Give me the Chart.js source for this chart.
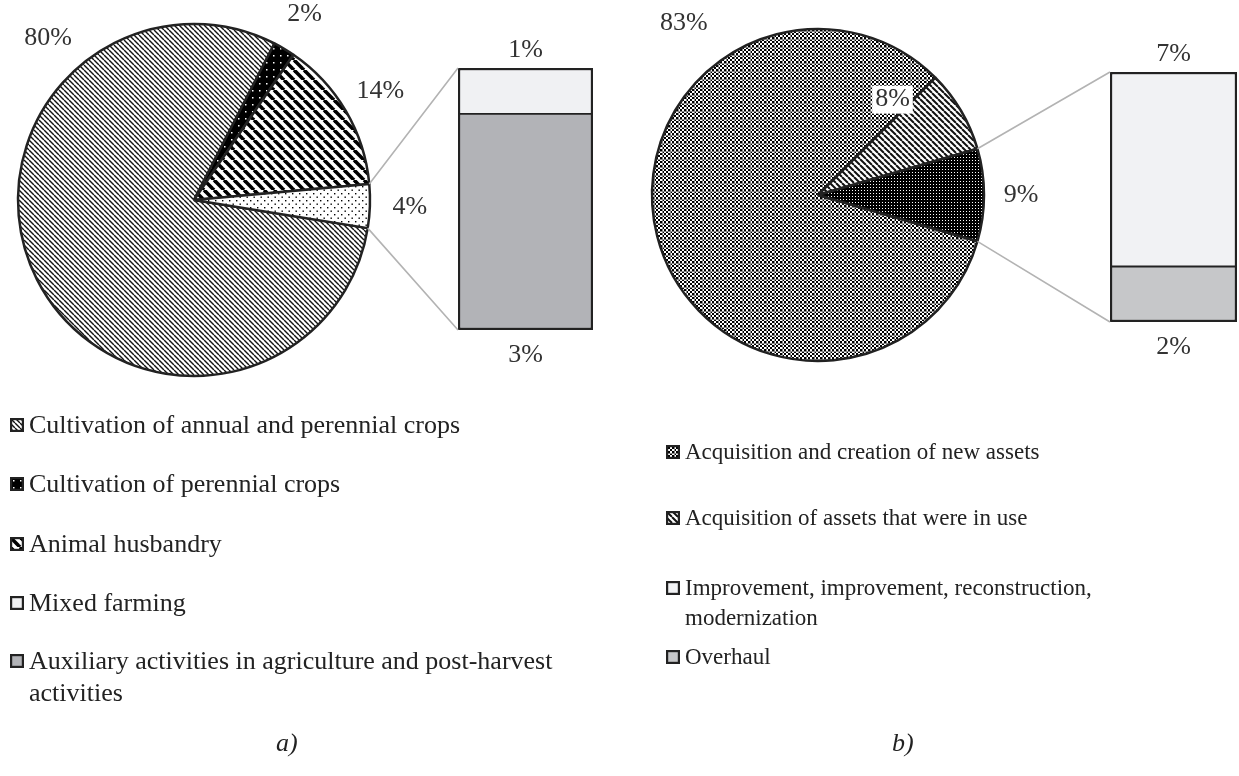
<!DOCTYPE html>
<html>
<head>
<meta charset="utf-8">
<script src="https://cdn.jsdelivr.net/npm/chart.js@4"></script>
<style>
  body { margin: 0; background: #fff; width: 1239px; height: 776px; overflow: hidden; position: relative;
         font-family: "Liberation Serif", "Times New Roman", serif; color: #222; }
  canvas.c { position: absolute; }
  .item { position: absolute; display: flex; align-items: flex-start; }
  .item canvas { flex: none; margin-right: 5px; }
  .legA { font-size: 26px; line-height: 32px; }
  .legA canvas { margin-top: 9px; }
  .legB { font-size: 23px; line-height: 30px; }
  .legB canvas { margin-top: 8px; }
  .cap { position: absolute; font-size: 26px; font-style: italic; }
</style>
</head>
<body>
<canvas class="c" id="pieA" width="380" height="380" style="left:4px;top:10px"></canvas>
<canvas class="c" id="barA" width="145" height="272" style="left:453px;top:63px"></canvas>
<canvas class="c" id="pieB" width="360" height="360" style="left:638px;top:15px"></canvas>
<canvas class="c" id="barB" width="137" height="260" style="left:1105px;top:67px"></canvas>
<canvas class="c" id="overlay" width="1239" height="776" style="left:0;top:0;pointer-events:none"></canvas>
<div id="legA"></div>
<div id="legB"></div>
<div class="cap" style="left:276px;top:728px">a)</div>
<div class="cap" style="left:892px;top:728px">b)</div>

<script>
// ---- data: panel a) ----
const catsA = ['Cultivation of annual and perennial crops', 'Cultivation of perennial crops',
               'Animal husbandry', 'Mixed farming',
               'Auxiliary activities in agriculture and post-harvest activities'];
const pieValsA = [80, 2, 14];     // main pie slices
const barValsA = [0.7, 3.3];      // mixed farming, auxiliary -> "other" slice split

// ---- data: panel b) ----
const catsB = ['Acquisition and creation of new assets', 'Acquisition of assets that were in use',
               'Improvement, improvement, reconstruction, modernization', 'Overhaul'];
const pieValsB = [83, 8];
const barValsB = [7, 2];          // improvement, overhaul

const INK = '#222';
const LABEL = '#333';
const FONT = '26px "Liberation Serif", "Times New Roman", serif';

function pattern(kind) {
  const c = document.createElement('canvas');
  const x = c.getContext('2d');
  const diag = (s, w, bg, fg) => {
    c.width = c.height = s;
    x.fillStyle = bg; x.fillRect(0, 0, s, s);
    x.strokeStyle = fg; x.lineWidth = w;
    for (const o of [-s, 0, s]) { x.beginPath(); x.moveTo(o, 0); x.lineTo(o + s, s); x.stroke(); }
  };
  if (kind === 'fineDiag') diag(5, 1.4, '#fff', '#111');
  else if (kind === 'wideDiag') diag(10, 3.6, '#fff', '#000');
  else if (kind === 'stripes') diag(6, 2, '#fff', '#111');
  else if (kind === 'blackDots') {
    c.width = c.height = 7;
    x.fillStyle = '#000'; x.fillRect(0, 0, 7, 7);
    x.fillStyle = '#fff'; x.fillRect(3, 3, 1.5, 1.5);
  } else if (kind === 'dots') {
    c.width = c.height = 7;
    x.fillStyle = '#fff'; x.fillRect(0, 0, 7, 7);
    x.fillStyle = '#000'; x.fillRect(1, 1, 1.4, 1.4); x.fillRect(4.5, 4.5, 1.4, 1.4);
  } else if (kind === 'checker') {
    c.width = c.height = 8;
    x.fillStyle = '#fff'; x.fillRect(0, 0, 8, 8);
    x.fillStyle = '#000';
    for (let i = 0; i < 4; i++) for (let j = 0; j < 4; j++) if ((i + j) % 2 === 0) x.fillRect(i * 2, j * 2, 2, 2);
    x.fillStyle = '#888'; x.fillRect(0, 0, 8, 1); x.fillRect(0, 0, 1, 8);
  } else if (kind === 'denseDots') {
    c.width = c.height = 3;
    x.fillStyle = '#000'; x.fillRect(0, 0, 3, 3);
    x.fillStyle = '#fff'; x.fillRect(1, 1, 1, 1);
  }
  return x.createPattern(c, 'repeat');
}

const sum = a => a.reduce((s, v) => s + v, 0);

function makePie(id, vals, fills, radius, tilt) {
  return new Chart(document.getElementById(id), {
    type: 'pie',
    data: { labels: vals.map((_, i) => i), datasets: [{ data: vals, backgroundColor: fills,
      borderColor: INK, borderWidth: 2.5 }] },
    options: {
      responsive: false, animation: false, radius: radius,
      // "other" slice is last; centre it near 3 o'clock like a pie-of-bar
      rotation: 90 + tilt + vals[vals.length - 1] / sum(vals) * 180,
      layout: { padding: 0 },
      plugins: { legend: { display: false }, tooltip: { enabled: false } }
    }
  });
}

function makeBar(id, vals, colors) {
  // bottom segment first in the stack
  const order = vals.map((_, i) => i).reverse();
  return new Chart(document.getElementById(id), {
    type: 'bar',
    data: { labels: [''], datasets: order.map((i, k) => ({
      data: [vals[i]], backgroundColor: colors[i], borderColor: INK,
      borderWidth: k === 0 ? { top: 1.3, left: 2.5, right: 2.5, bottom: 2.5 }
                           : { top: 2.5, left: 2.5, right: 2.5, bottom: 1.3 },
      borderSkipped: false, barPercentage: 1, categoryPercentage: 1 })) },
    options: {
      responsive: false, animation: false,
      layout: { padding: 5 },
      scales: { x: { stacked: true, display: false }, y: { stacked: true, display: false, min: 0, max: sum(vals) } },
      plugins: { legend: { display: false }, tooltip: { enabled: false } }
    }
  });
}

const fillsA = [pattern('fineDiag'), pattern('blackDots'), pattern('wideDiag'), pattern('dots')];
const fillsB = [pattern('checker'), pattern('stripes'), pattern('denseDots')];
const barColorsA = ['#f0f1f3', '#b2b3b7'];
const barColorsB = ['#f1f2f4', '#c6c7c9'];

const pieA = makePie('pieA', [...pieValsA, sum(barValsA)], fillsA, 176, 2);
const barA = makeBar('barA', barValsA, barColorsA);
const pieB = makePie('pieB', [...pieValsB, sum(barValsB)], fillsB, 166, 0);
const barB = makeBar('barB', barValsB, barColorsB);

// ---- overlay: connector lines and percentage labels ----
const ov = document.getElementById('overlay').getContext('2d');
const off = ch => ({ x: ch.canvas.offsetLeft, y: ch.canvas.offsetTop });
const pct = v => Math.round(v) + '%';

// labelPos: per slice index, optional {angle (deg from 12 o'clock), dist (px from centre), box}
function decorate(pie, bar, barVals, gap, labelPos) {
  const po = off(pie), bo = off(bar);
  const arcs = pie.getDatasetMeta(0).data;
  const vals = pie.data.datasets[0].data;
  const last = arcs[arcs.length - 1];
  const cx = po.x + last.x, cy = po.y + last.y, r = last.outerRadius;
  // bar extents (datasets are stacked bottom-first)
  const metas = bar.data.datasets.map((_, i) => bar.getDatasetMeta(i).data[0]);
  const bottom = metas[0], top = metas[metas.length - 1];
  const left = bo.x + bottom.x - bottom.width / 2;
  const barTop = bo.y + top.y, barBottom = bo.y + bottom.base;
  ov.strokeStyle = '#b3b3b3'; ov.lineWidth = 1.6;
  ov.beginPath();
  ov.moveTo(cx + r * Math.cos(last.startAngle), cy + r * Math.sin(last.startAngle));
  ov.lineTo(left, barTop);
  ov.moveTo(cx + r * Math.cos(last.endAngle), cy + r * Math.sin(last.endAngle));
  ov.lineTo(left, barBottom);
  ov.stroke();

  ov.font = FONT; ov.textAlign = 'center'; ov.textBaseline = 'middle';
  arcs.forEach((a, i) => {
    let ang = (a.startAngle + a.endAngle) / 2, d = r + gap;
    const p = labelPos[i];
    if (p) { ang = (p.angle - 90) * Math.PI / 180; d = p.dist; }
    const tx = cx + d * Math.cos(ang), ty = cy + d * Math.sin(ang);
    const s = pct(vals[i]);
    if (p && p.box) {
      const w = ov.measureText(s).width + 6;
      ov.fillStyle = '#fff'; ov.fillRect(tx - w / 2, ty - 14, w, 28);
    }
    ov.fillStyle = LABEL;
    ov.fillText(s, tx, ty);
  });
  const bx = bo.x + bottom.x;
  ov.fillStyle = LABEL;
  ov.fillText(pct(barVals[0]), bx, barTop - 18);
  ov.fillText(pct(barVals[barVals.length - 1]), bx, barBottom + 25);
}
decorate(pieA, barA, barValsA, 40, { 0: { angle: -42, dist: 218 } });
decorate(pieB, barB, barValsB, 37, { 0: { angle: -38, dist: 218 }, 1: { angle: 38, dist: 121, box: true } });

// ---- legends ----
function legend(hostId, cls, cats, swatches, x, centers, width, half) {
  const host = document.getElementById(hostId);
  cats.forEach((name, i) => {
    const it = document.createElement('div');
    it.className = 'item ' + cls;
    it.style.left = x + 'px';
    it.style.top = (centers[i] - half) + 'px';
    it.style.width = width + 'px';
    const sw = document.createElement('canvas');
    sw.width = sw.height = 14;
    const g = sw.getContext('2d');
    g.fillStyle = swatches[i]; g.fillRect(0, 0, 14, 14);
    g.strokeStyle = INK; g.lineWidth = 2.2; g.strokeRect(1.1, 1.1, 11.8, 11.8);
    const t = document.createElement('span');
    t.textContent = name;
    it.appendChild(sw); it.appendChild(t);
    host.appendChild(it);
  });
}
legend('legA', 'legA', catsA, [fillsA[0], fillsA[1], fillsA[2], barColorsA[0], barColorsA[1]],
       10, [425, 484, 544, 603, 661], 560, 16);
legend('legB', 'legB', catsB, [fillsB[0], fillsB[1], barColorsB[0], barColorsB[1]],
       666, [452, 518, 588, 657], 440, 15);
</script>
</body>
</html>
